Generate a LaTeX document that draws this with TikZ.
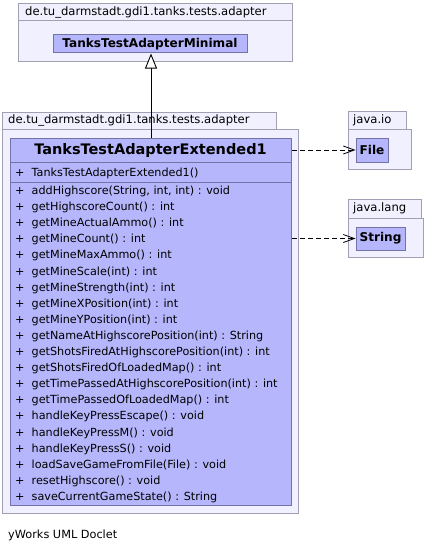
\documentclass[tikz,border=0pt]{standalone}
\usepackage{fontspec}
\setmainfont{DejaVu Sans}
\usetikzlibrary{arrows.meta}
\definecolor{pkgfill}{RGB}{240,240,254}
\definecolor{pkgdraw}{RGB}{160,160,178}
\definecolor{clsfill}{RGB}{182,182,252}
\definecolor{clsdraw}{RGB}{115,115,165}
\tikzset{
  pkgbox/.style={draw=pkgdraw, fill=pkgfill, line width=0.9pt},
  clsbox/.style={draw=clsdraw, fill=clsfill, line width=1pt, inner sep=0pt},
  pkglabel/.style={anchor=west, inner sep=0pt, font=\fontsize{11.6}{13}\selectfont},
  clsname/.style={font=\bfseries\fontsize{12.1}{14}\selectfont},
  member/.style={anchor=west, inner sep=0pt, font=\fontsize{11.2}{13}\selectfont},
  depline/.style={dashed, dash pattern=on 5pt off 3pt, line width=0.8pt, -{Straight Barb[length=11pt,width=8pt]}},
  inhline/.style={line width=0.9pt, -{Triangle[open,length=15pt,width=12pt,fill=white]}}
}
\begin{document}
\begin{tikzpicture}[x=1pt,y=-1pt]
\useasboundingbox (0,0) rectangle (426,551);
\fill[white] (0,0) rectangle (426,551);
% package 1
\draw[pkgbox] (18,3) rectangle (292,20);
\node[pkgbox, minimum width=274pt, minimum height=41pt, inner sep=0pt, anchor=north west] (pkgA) at (18,20) {};
\node[pkglabel] (pkgAlab) at (25,12) {de.tu\_darmstadt.gdi1.tanks.tests.adapter};
\node[clsbox, clsname, minimum width=194pt, minimum height=18pt] (min) at (150,44) {TanksTestAdapterMinimal};
% package 2
\draw[pkgbox] (2,112) rectangle (276,129);
\node[pkgbox, minimum width=296pt, minimum height=384pt, inner sep=0pt, anchor=north west] (pkgB) at (2,129) {};
\node[pkglabel] (pkgBlab) at (8,120.5) {de.tu\_darmstadt.gdi1.tanks.tests.adapter};
% main class
\node[clsbox, minimum width=281pt, minimum height=367pt, anchor=north west] (ext) at (10,138) {};
\draw[clsdraw, line width=1pt] (10,162) -- (291,162);
\draw[clsdraw, line width=1pt] (10,182) -- (291,182);
\node[font=\bfseries\fontsize{14.5}{17}\selectfont, inner sep=0pt] (extname) at (150.5,150) {TanksTestAdapterExtended1};
\node[member] (c0) at (15,173) {+\ \ TanksTestAdapterExtended1()};
\foreach \t [count=\i from 0] in {
addHighscore(String{,} int{,} int) : void,
getHighscoreCount() : int,
getMineActualAmmo() : int,
getMineCount() : int,
getMineMaxAmmo() : int,
getMineScale(int) : int,
getMineStrength(int) : int,
getMineXPosition(int) : int,
getMineYPosition(int) : int,
getNameAtHighscorePosition(int) : String,
getShotsFiredAtHighscorePosition(int) : int,
getShotsFiredOfLoadedMap() : int,
getTimePassedAtHighscorePosition(int) : int,
getTimePassedOfLoadedMap() : int,
handleKeyPressEscape() : void,
handleKeyPressM() : void,
handleKeyPressS() : void,
loadSaveGameFromFile(File) : void,
resetHighscore() : void,
saveCurrentGameState() : String}
{ \node[member] (m\i) at (15,{191.5+\i*16.1}) {+\ \ \t}; }
% java.io
\draw[pkgbox] (348,111) rectangle (406,129);
\node[pkgbox, minimum width=63pt, minimum height=40pt, inner sep=0pt, anchor=north west] (pkgIO) at (348,129) {};
\node[pkglabel] (pkgIOlab) at (353,120) {java.io};
\node[clsbox, clsname, minimum width=32pt, minimum height=24pt] (file) at (372,150) {File};
% java.lang
\draw[pkgbox] (348,199) rectangle (421,218);
\node[pkgbox, minimum width=75pt, minimum height=39pt, inner sep=0pt, anchor=north west] (pkgLang) at (348,218) {};
\node[pkglabel] (pkgLanglab) at (353,208.5) {java.lang};
\node[clsbox, clsname, minimum width=49pt, minimum height=23pt] (string) at (380.5,238.5) {String};
% connectors
\draw[inhline] (ext.north) -- (ext.north |- min.south);
\draw[depline] (ext.east |- file.west) -- (file.west);
\draw[depline] (ext.east |- string.west) -- (string.west);
% footer
\node[anchor=west, inner sep=0pt, font=\fontsize{11.3}{13}\selectfont] (foot) at (8,535) {yWorks UML Doclet};
\end{tikzpicture}
\end{document}
